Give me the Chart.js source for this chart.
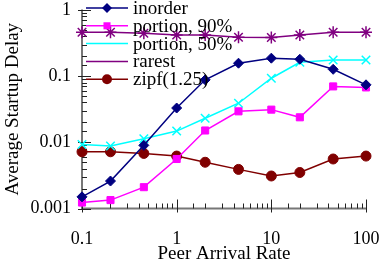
<!DOCTYPE html>
<html lang="en">
  <head>
    <meta charset="UTF-8" />
    <title>Average Startup Delay vs Peer Arrival Rate</title>
    <style>
      html, body {
        margin: 0;
        padding: 0;
        background: #fff;
      }
      .chart-container {
        position: relative;
        width: 381px;
        height: 266px;
      }
    </style>
    <script src="https://cdn.jsdelivr.net/npm/chart.js"></script>
  </head>
  <body>
    <div class="chart-container">
      <canvas id="delayChart"></canvas>
    </div>

    <script>
      // data
      const arrivalRates = [0.1, 0.2, 0.45, 1, 2, 4.5, 10, 20, 45, 100];
      const seriesNames = ["inorder", "portion, 90%", "portion, 50%", "rarest", "zipf(1.25)"];
      const inorder = [0.0015, 0.0026, 0.009, 0.033, 0.088, 0.157, 0.187, 0.18, 0.127, 0.074];
      const portion90 = [0.00123, 0.00134, 0.0021, 0.0056, 0.0151, 0.0294, 0.0312, 0.0239, 0.07, 0.0676];
      const portion50 = [0.0093, 0.0088, 0.0113, 0.0148, 0.0231, 0.039, 0.093, 0.162, 0.176, 0.176];
      const rarest = [0.46, 0.46, 0.444, 0.42, 0.42, 0.387, 0.383, 0.42, 0.46, 0.46];
      const zipf = [0.0072, 0.0072, 0.0068, 0.0062, 0.005, 0.0039, 0.0031, 0.0035, 0.0056, 0.0062];
      const xTickLabels = [0.1, 1, 10, 100];
      const yTickLabels = [0.001, 0.01, 0.1, 1];

      const serif = "'Liberation Serif', 'Times New Roman', serif";

      function isPow10(v) {
        const l = Math.log10(v);
        return Math.abs(l - Math.round(l)) < 1e-6;
      }

      function makeSet(label, values, color, style, radius) {
        return {
          label,
          data: values.map((y, i) => ({ x: arrivalRates[i], y })),
          borderColor: color,
          backgroundColor: color,
          borderWidth: 1.5,
          pointStyle: style,
          pointRadius: radius,
          pointBorderWidth: style === "crossRot" || style === "star" ? 1.5 : 1,
          clip: false,
          tension: 0,
        };
      }

      // legend inside the plot, top left
      const innerLegend = {
        id: "innerLegend",
        afterDraw(chart) {
          const ctx = chart.ctx;
          ctx.save();
          chart.data.datasets.forEach((ds, i) => {
            const y = 8 + i * 17.8;
            ctx.strokeStyle = ds.borderColor;
            ctx.fillStyle = ds.backgroundColor;
            ctx.lineWidth = 1.5;
            ctx.beginPath();
            ctx.moveTo(86, y);
            ctx.lineTo(128, y);
            ctx.stroke();
            ctx.lineWidth = ds.pointBorderWidth;
            Chart.helpers.drawPoint(ctx, { pointStyle: ds.pointStyle, radius: ds.pointRadius, rotation: 0 }, 107, y);
            ctx.fillStyle = "#000";
            ctx.font = "19px " + serif;
            ctx.textBaseline = "middle";
            ctx.textAlign = "left";
            ctx.fillText(ds.label, 133, y + 1);
          });
          ctx.restore();
        },
      };

      // axis lines with inward ticks
      const inwardTicks = {
        id: "inwardTicks",
        beforeDatasetsDraw(chart) {
          const ctx = chart.ctx;
          const { left, bottom } = chart.chartArea;
          const xs = chart.scales.x;
          const ys = chart.scales.y;
          ctx.save();
          ctx.strokeStyle = "#777";
          ctx.lineWidth = 2;
          ctx.beginPath();
          ctx.moveTo(left, ys.getPixelForValue(1) - 0.5);
          ctx.lineTo(left, bottom);
          ctx.lineTo(xs.getPixelForValue(100) + 0.5, bottom);
          ctx.stroke();

          ctx.strokeStyle = "#222";
          ctx.lineWidth = 1;
          ys.ticks.forEach((t) => {
            const py = Math.round(ys.getPixelForValue(t.value)) + 0.5;
            const major = isPow10(t.value);
            ctx.beginPath();
            ctx.moveTo(major ? left - 4 : left, py);
            ctx.lineTo(left + (major ? 9 : 5), py);
            ctx.stroke();
          });
          xs.ticks.forEach((t) => {
            const px = Math.round(xs.getPixelForValue(t.value)) + 0.5;
            const major = isPow10(t.value);
            ctx.beginPath();
            ctx.moveTo(px, major ? bottom + 4 : bottom);
            ctx.lineTo(px, bottom - (major ? 9 : 5));
            ctx.stroke();
          });
          ctx.restore();
        },
      };

      const ctx = document.getElementById("delayChart").getContext("2d");
      new Chart(ctx, {
        type: "line",
        data: {
          datasets: [
            makeSet(seriesNames[0], inorder, "#000080", "rectRot", 5),
            makeSet(seriesNames[1], portion90, "#ff00ff", "rect", 5),
            makeSet(seriesNames[2], portion50, "#00ffff", "crossRot", 6),
            makeSet(seriesNames[3], rarest, "#800080", "star", 6),
            makeSet(seriesNames[4], zipf, "#800000", "circle", 5),
          ],
        },
        options: {
          responsive: true,
          maintainAspectRatio: false,
          animation: false,
          layout: { padding: 0 },
          plugins: {
            legend: { display: false },
            tooltip: { enabled: false },
          },
          scales: {
            x: {
              type: "logarithmic",
              min: 0.1,
              max: 100,
              grid: { display: false, drawTicks: false },
              border: { display: false },
              ticks: {
                autoSkip: false,
                maxRotation: 0,
                padding: 20,
                color: "#000",
                font: { family: serif, size: 18 },
                callback: (v) => (xTickLabels.includes(v) ? String(v) : ""),
              },
              title: {
                display: true,
                text: "Peer Arrival Rate",
                color: "#000",
                font: { family: serif, size: 19 },
                padding: { top: 0, bottom: 1 },
              },
              afterFit(scale) {
                scale.height = 57.5;
                scale.paddingLeft = 0;
                scale.paddingRight = 15;
              },
            },
            y: {
              type: "logarithmic",
              min: 0.001,
              max: 1,
              grid: { display: false, drawTicks: false },
              border: { display: false },
              ticks: {
                autoSkip: false,
                padding: 11,
                color: "#000",
                font: { family: serif, size: 18 },
                callback: (v) => (yTickLabels.includes(v) ? String(v) : ""),
              },
              title: {
                display: true,
                text: "Average Startup Delay",
                color: "#000",
                font: { family: serif, size: 19 },
                padding: { top: 2, bottom: 0 },
              },
              afterFit(scale) {
                scale.width = 82;
                scale.paddingTop = 10;
                scale.paddingBottom = 0;
              },
            },
          },
        },
        plugins: [inwardTicks, innerLegend],
      });
    </script>
  </body>
</html>
